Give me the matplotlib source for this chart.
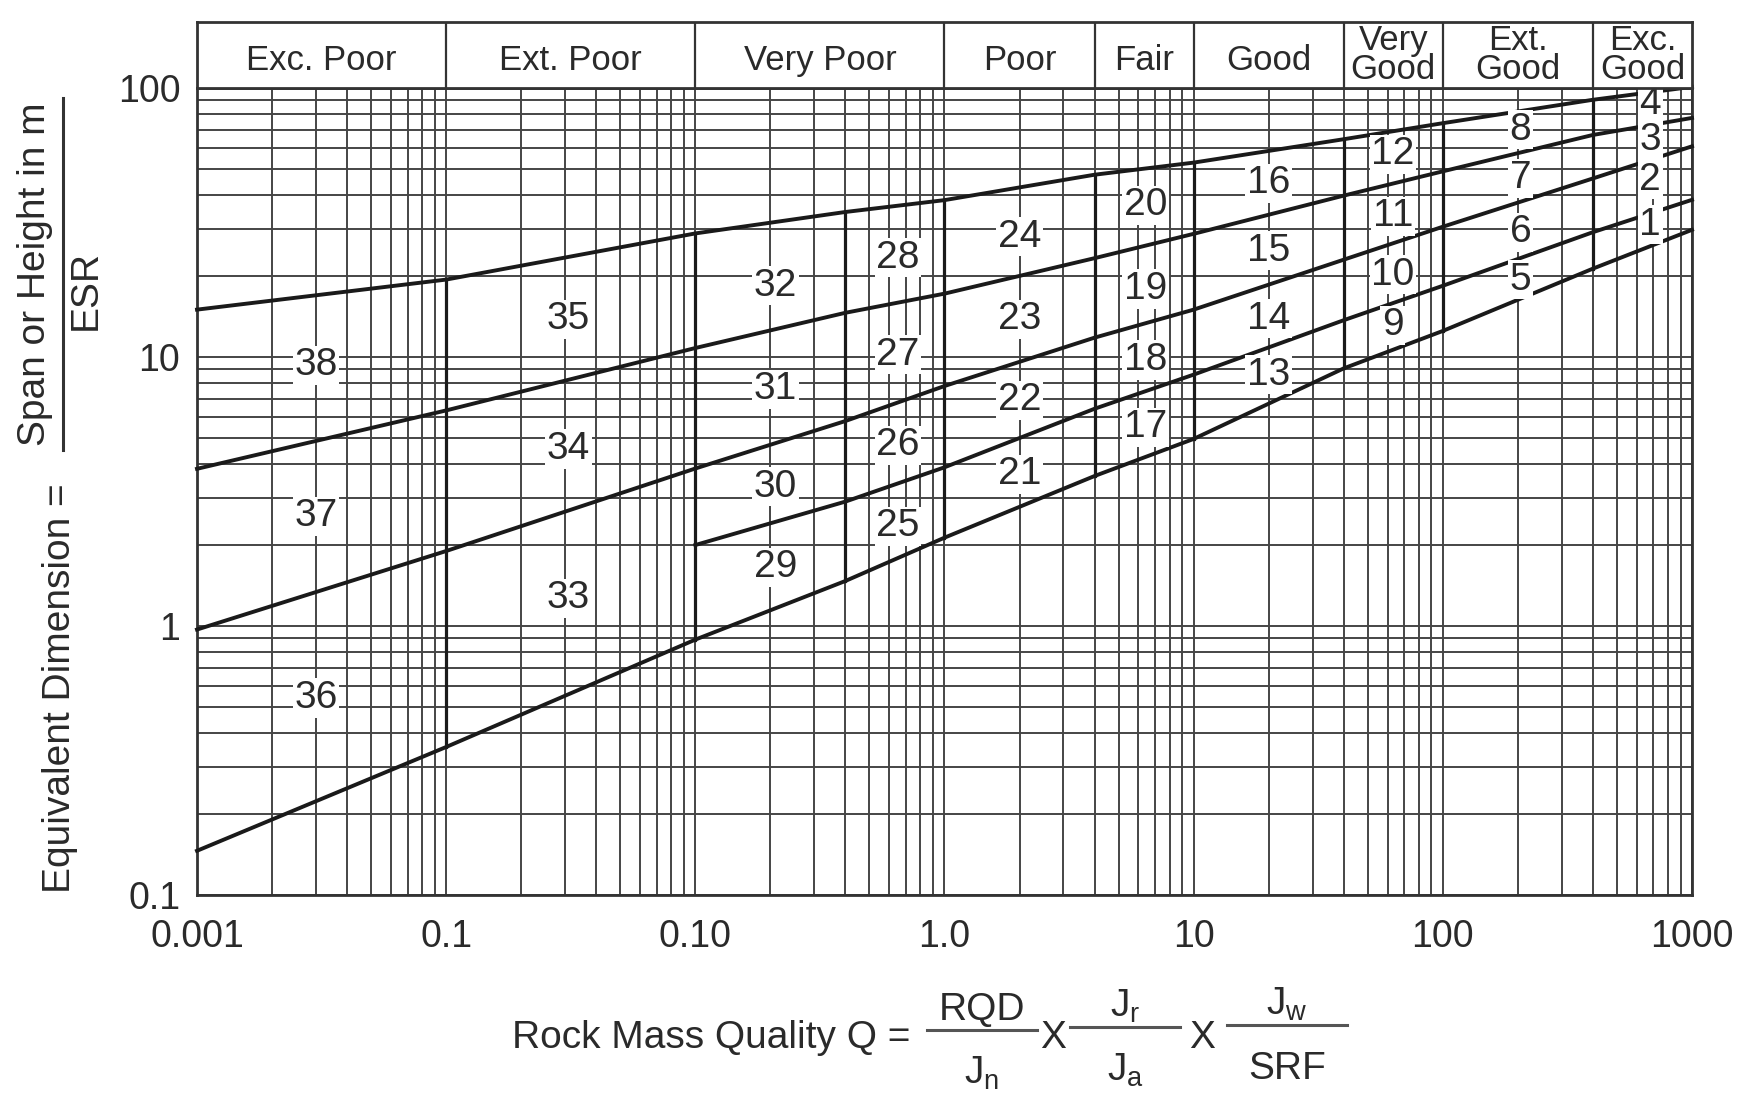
import numpy as np
import matplotlib.pyplot as plt
from matplotlib.lines import Line2D
from matplotlib.ticker import LogLocator, NullFormatter

plt.rcParams['font.family'] = ['Liberation Sans', 'DejaVu Sans']
plt.rcParams['mathtext.fontset'] = 'custom'
plt.rcParams['mathtext.rm'] = 'Liberation Sans'
plt.rcParams['mathtext.it'] = 'Liberation Sans:italic'

# --- data --------------------------------------------------------------
q_knots = [0.001, 0.01, 0.1, 0.4, 1, 4, 10, 40, 100, 400, 1000]
line_a = [15.0, 19.4, 28.8, 34.6, 38.3, 47.6, 52.8, 64.5, 74.0, 90.4, 101.0]
line_b = [3.84, 6.33, 10.8, 14.6, 17.2, 23.3, 28.7, 39.8, 49.0, 66.9, 77.4]
line_c = [0.97, 1.90, 3.85, 5.78, 7.8, 11.8, 15.0, 23.0, 30.5, 46.1, 60.7]
line_d = [0.146, 0.355, 0.89, 1.47, 2.13, 3.61, 4.96, 9.07, 12.5, 21.3, 29.7]
q_e = [0.1, 0.4, 1, 4, 10, 40, 100, 400, 1000]
line_e = [2.0, 2.9, 3.89, 6.42, 8.6, 13.7, 18.4, 29.1, 38.4]

classes = ['Exc. Poor', 'Ext. Poor', 'Very Poor', 'Poor', 'Fair', 'Good',
           'Very\nGood', 'Ext.\nGood', 'Exc.\nGood']
class_bounds = [0.001, 0.01, 0.1, 1, 4, 10, 40, 100, 400, 1000]
divider_q = [0.01, 0.1, 0.4, 1, 4, 10, 40, 100, 400]

x_ticks = [0.001, 0.01, 0.1, 1, 10, 100, 1000]
x_ticklabels = ['0.001', '0.1', '0.10', '1.0', '10', '100', '1000']
y_ticks = [0.1, 1, 10, 100]
y_ticklabels = ['0.1', '1', '10', '100']

# support category numbers, column by column (Q of column, D of each label)
col_q = [0.003, 0.031, 0.21, 0.65, 2.0, 6.4, 20, 63, 205, 680]
col_nums = [[38, 37, 36], [35, 34, 33], [32, 31, 30, 29], [28, 27, 26, 25],
            [24, 23, 22, 21], [20, 19, 18, 17], [16, 15, 14, 13],
            [12, 11, 10, 9], [8, 7, 6, 5], [4, 3, 2, 1]]
col_d = [[9.3, 2.56, 0.54], [13.8, 4.55, 1.27], [18.4, 7.6, 3.3, 1.65],
         [23.4, 10.2, 4.7, 2.35], [28, 13.8, 6.9, 3.66], [36.6, 17.9, 9.75, 5.47],
         [44.3, 24.8, 13.9, 8.6], [56.7, 33.4, 20.2, 13.1], [70, 46.2, 29.1, 19.4],
         [87, 64, 45.6, 31]]

# --- layout (pixels of the 1758x1094 figure) --------------------------
W, H = 1758, 1094
L, R, T, B = 197, 1692, 88, 895
HT = 22
TXT = '#2a2a2a'
LINE = '#1a1a1a'
GRID = '#454545'


def fx(px):
    return px / W


def fy(py):
    return 1 - py / H


fig = plt.figure(figsize=(W / 100, H / 100), dpi=100)
ax = fig.add_axes([fx(L), fy(B), (R - L) / W, (B - T) / H])
ax.set_xscale('log')
ax.set_yscale('log')
ax.set_xlim(0.001, 1000)
ax.set_ylim(0.1, 100)

for axis in (ax.xaxis, ax.yaxis):
    axis.set_minor_locator(LogLocator(base=10, subs=np.arange(2, 10), numticks=100))
    axis.set_minor_formatter(NullFormatter())
ax.set_xticks(x_ticks)
ax.set_xticklabels(x_ticklabels)
ax.set_yticks(y_ticks)
ax.set_yticklabels(y_ticklabels)
ax.tick_params(which='both', length=0, colors=TXT)
ax.tick_params(axis='x', labelsize=27, pad=17)
ax.tick_params(axis='y', labelsize=27, pad=12)
ax.grid(which='both', color=GRID, lw=1.4, zorder=1)
ax.set_axisbelow(True)
for s in ax.spines.values():
    s.set_linewidth(2.0)
    s.set_color('#333333')

# boundary curves
for q, d in [(q_knots, line_a), (q_knots, line_b), (q_knots, line_c),
             (q_e, line_e), (q_knots, line_d)]:
    ax.plot(q, d, color=LINE, lw=2.8, clip_on=False, zorder=3)

# heavy class dividers between top and bottom curve
for q in divider_q:
    i = q_knots.index(q)
    ax.plot([q, q], [line_d[i], line_a[i]], color=LINE, lw=2.3, zorder=3)

# category numbers
for q, nums, ds in zip(col_q, col_nums, col_d):
    for n, d in zip(nums, ds):
        ax.text(q, d, str(n), ha='center', va='center', fontsize=28, color=TXT,
                bbox=dict(fc='white', ec='none', pad=1.0), zorder=4)

# header strip with rock classes
hx = fig.add_axes([fx(L), fy(T), (R - L) / W, (T - HT) / H])
hx.set_xscale('log')
hx.set_xlim(0.001, 1000)
hx.set_ylim(0, 1)
hx.set_xticks([])
hx.set_yticks([])
hx.xaxis.set_minor_locator(plt.NullLocator())
for s in hx.spines.values():
    s.set_linewidth(2.0)
    s.set_color('#333333')
for q in class_bounds[1:-1]:
    hx.plot([q, q], [0, 1], color='#333333', lw=1.6)
for name, lo, hi in zip(classes, class_bounds[:-1], class_bounds[1:]):
    yc = 0.5 if '\n' in name else 0.42
    hx.text(np.sqrt(lo * hi), yc, name, ha='center', va='center',
            fontsize=25, color=TXT, linespacing=0.85)

# y axis label: Equivalent Dimension = Span or Height in m / ESR
fig.text(fx(60), fy(688), 'Equivalent Dimension =', rotation=90,
         ha='center', va='center', fontsize=28, color=TXT)
fig.text(fx(35), fy(274), 'Span or Height in m', rotation=90,
         ha='center', va='center', fontsize=28, color=TXT)
fig.text(fx(86), fy(290), 'ESR', rotation=90,
         ha='center', va='center', fontsize=28, color=TXT)
fig.add_artist(Line2D([fx(63), fx(63)], [fy(98), fy(450)], color='#333333', lw=2.2))

# x axis label: Q = RQD/Jn x Jr/Ja x Jw/SRF
fig.text(fx(910), fy(1048), 'Rock Mass Quality Q =', ha='right', va='baseline',
         fontsize=28, color=TXT)
fracs = [('RQD', r'J$_{\mathrm{n}}$', 927, 1037, 1030),
         (r'J$_{\mathrm{r}}$', r'J$_{\mathrm{a}}$', 1070, 1180, 1027),
         (r'J$_{\mathrm{w}}$', 'SRF', 1227, 1347, 1025)]
for top, bot, x0, x1, yb in fracs:
    xc = (x0 + x1) / 2
    fig.add_artist(Line2D([fx(x0), fx(x1)], [fy(yb), fy(yb)], color='#555555', lw=2.2))
    fig.text(fx(xc), fy(yb - 10), top, ha='center', va='baseline', fontsize=28, color=TXT)
    fig.text(fx(xc), fy(yb + 54), bot, ha='center', va='baseline', fontsize=28, color=TXT)
for xc in (1053, 1202):
    fig.text(fx(xc), fy(1048), 'X', ha='center', va='baseline', fontsize=28, color=TXT)

fig.savefig('out.png', dpi=100)
